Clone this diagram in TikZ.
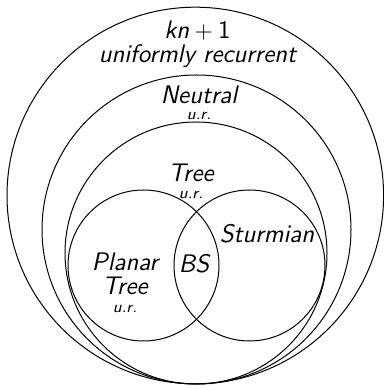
\documentclass[tikz,border=0pt]{standalone}
\usetikzlibrary{positioning}

\begin{document}
\begin{tikzpicture}[
    x=0.5pt, y=0.5pt,
    set/.style={draw, line width=0.5pt},
    lbl/.style={font=\sffamily\itshape\fontsize{12.7pt}{15pt}\selectfont, align=center, inner sep=0pt},
    tag/.style={font=\sffamily\itshape\fontsize{8pt}{9pt}\selectfont, inner sep=0pt}
]
    \useasboundingbox (0,0) rectangle (384,385);

    % Sets
    \draw [set] (195.3,189.5) circle [radius=188.3];
    \draw [set] (196.5,155.5) circle [radius=154.5];
    \draw [set] (196,132) circle [radius=131];
    \draw [set] (143.5,119.5) circle [radius=75.5];
    \draw [set] (249.5,119.5) circle [radius=75.5];

    % Labels
    \node [lbl] (uniform) at (197.5,341) {\textit{kn}${}+{}$\textup{1}\\[-3pt]uniformly recurrent};
    \node [lbl] (neutral) at (199,290.5) {Neutral};
    \node [tag, below=4pt of neutral] (neutralur) {u.r.};
    \node [lbl] (tree) at (191,212) {Tree};
    \node [tag, below=4.5pt of tree] (treeur) {u.r.};
    \node [lbl] (sturmian) at (267,151.5) {Sturmian};
    \node [lbl] (bs) at (194,121) {BS};
    \node [lbl] (planar) at (125,111.5) {Planar\\[-3pt]Tree};
    \node [tag, below=5pt of planar] (planarur) {u.r.};
\end{tikzpicture}
\end{document}
